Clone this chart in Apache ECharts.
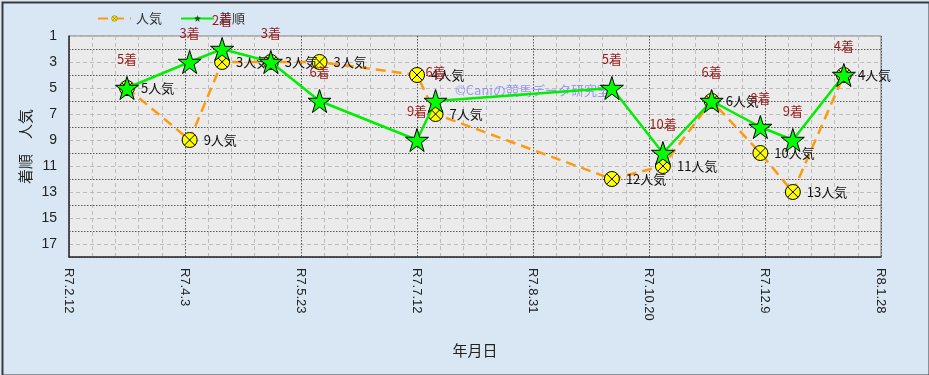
<!DOCTYPE html>
<html><head><meta charset="utf-8">
<script src="https://cdn.jsdelivr.net/npm/echarts@6/dist/echarts.min.js"></script>
<style>html,body{margin:0;padding:0;background:#d9e7f5}#c{width:929px;height:375px}</style>
</head><body><div id="c"></div><script>
// ---- data ----
const raceDates   = ['2025-03-09','2025-04-05','2025-04-19','2025-05-10','2025-05-31','2025-07-12','2025-07-20','2025-10-04','2025-10-26','2025-11-16','2025-12-07','2025-12-21','2026-01-12'];
const finishOrder = [5, 3, 2, 3, 6, 9, 6, 5, 10, 6, 8, 9, 4];
const popularity  = [5, 9, 3, 3, 3, 4, 7, 12, 11, 6, 10, 13, 4];
const axisStartDate = '2025-02-12';
const axisEndDate   = '2026-01-28';
const xTickStepDays = 50;
const yMin = 1, yMax = 18;
const seriesNames = ['人気', '着順'];
const yAxisName = '着順　人気';
const xAxisName = '年月日';
const watermark = '©Caniの競馬データ研究室';

const DAY = 86400000;
function toUTC(s){ const p = s.split('-').map(Number); return Date.UTC(p[0], p[1]-1, p[2]); }
const t0 = toUTC(axisStartDate);
const dayOf = s => Math.round((toUTC(s) - t0) / DAY);
const xMax = dayOf(axisEndDate);
function fmtDay(d){
  const dt = new Date(t0 + d * DAY);
  return 'R' + (dt.getUTCFullYear() - 2018) + '.' + (dt.getUTCMonth()+1) + '.' + dt.getUTCDate();
}
const popData = raceDates.map((d,i) => [dayOf(d), popularity[i]]);
const finData = raceDates.map((d,i) => [dayOf(d), finishOrder[i]]);

const starPath = 'path://M0,-1L0.2245,-0.309L0.951,-0.309L0.3633,0.118L0.5878,0.809L0,0.382L-0.5878,0.809L-0.3633,0.118L-0.951,-0.309L-0.2245,-0.309Z';
const circleX = 'path://M0,-1A1,1 0 1,1 0,1A1,1 0 1,1 0,-1ZM-0.7,-0.7L0.7,0.7M0.7,-0.7L-0.7,0.7';

const JP = '"Noto Sans CJK JP", sans-serif';
const NUM = '"Liberation Sans", Arial, sans-serif';

const chart = echarts.init(document.getElementById('c'));
const yBase = {
  type: 'value', inverse: true, min: yMin, max: yMax, interval: 1, position: 'left'
};
chart.setOption({
  backgroundColor: '#d9e7f5',
  animation: false,
  grid: { left: 69, right: 48, top: 36, bottom: 118, show: true, backgroundColor: '#ebebeb', borderColor: '#7a7a7a', borderWidth: 1 },
  legend: {
    top: 7, left: 92, itemWidth: 33, itemHeight: 7, itemGap: 18,
    data: [
      { name: seriesNames[0], itemStyle: { color: '#ffee00', borderColor: '#665500', borderWidth: 0.5 } },
      { name: seriesNames[1], itemStyle: { color: '#115511', borderColor: '#114411', borderWidth: 0.5 } }
    ],
    textStyle: { fontSize: 13, color: '#333', fontFamily: JP }
  },
  graphic: [
    { type: 'text', left: 455, top: 84, z: 1, style: { text: watermark, fill: 'rgba(100,100,255,0.6)', font: '13px "Noto Sans CJK JP"' } },
    { type: 'rect', left: 0, top: 0, z: 100, silent: true, shape: { x: 1, y: 1, width: 927, height: 373 }, style: { fill: 'none', stroke: '#3a3a3a', lineWidth: 2 } }
  ],
  xAxis: {
    type: 'value', min: 0, max: xMax, interval: xTickStepDays,
    name: xAxisName, nameLocation: 'middle', nameGap: 86, nameMoveOverlap: false,
    nameTextStyle: { fontSize: 15, color: '#222', fontFamily: JP },
    axisLine: { show: true, lineStyle: { color: '#333', width: 1.5 } },
    axisTick: { show: false },
    axisLabel: { rotate: -90, margin: 11, fontSize: 13, color: '#222', fontFamily: NUM, formatter: v => fmtDay(v), showMaxLabel: true, showMinLabel: true },
    splitLine: { show: true, lineStyle: { color: '#555', type: [1.5, 1.5], width: 1 } },
    minorTick: { show: false, splitNumber: 5 },
    minorSplitLine: { show: true, lineStyle: { color: '#bdbdbd', type: [4, 3], width: 1 } }
  },
  yAxis: [
    Object.assign({}, yBase, {
      name: yAxisName, nameLocation: 'middle', nameGap: 36, nameMoveOverlap: false,
      nameTextStyle: { fontSize: 15, color: '#222', fontFamily: JP },
      axisLine: { show: true, lineStyle: { color: '#333', width: 1.5 } },
      axisTick: { show: false },
      axisLabel: { margin: 12, fontSize: 14, color: '#222', fontFamily: NUM, formatter: v => (v % 2 === 1 ? String(v) : ''), showMaxLabel: false },
      splitLine: { show: true, lineStyle: { color: ['#bdbdbd', 'transparent'], type: [4, 3], width: 1 } }
    }),
    Object.assign({}, yBase, {
      axisLine: { show: false }, axisTick: { show: false }, axisLabel: { show: false },
      splitLine: { show: true, lineStyle: { color: ['transparent', '#555'], type: [1.5, 1.5], width: 1 } }
    })
  ],
  series: [
    {
      name: seriesNames[0], type: 'line', yAxisIndex: 0, data: popData, z: 3,
      symbol: circleX, symbolSize: 15,
      lineStyle: { color: '#ff9a10', width: 2.5, type: [10, 6] },
      itemStyle: { color: '#ffff00', borderColor: '#000', borderWidth: 1 },
      label: { show: true, position: 'right', distance: 6, formatter: p => p.value[1] + '人気', color: '#111', fontSize: 13, fontFamily: JP }
    },
    {
      name: seriesNames[1], type: 'line', yAxisIndex: 0, data: finData, z: 4,
      symbol: starPath, symbolSize: 23,
      lineStyle: { color: '#00ee00', width: 2.5 },
      itemStyle: { color: '#00ff00', borderColor: '#000', borderWidth: 1 },
      label: { show: true, position: 'top', distance: 10, formatter: p => p.value[1] + '着', color: '#9a1a1a', fontSize: 13, fontFamily: JP }
    }
  ]
});
</script></body></html>
